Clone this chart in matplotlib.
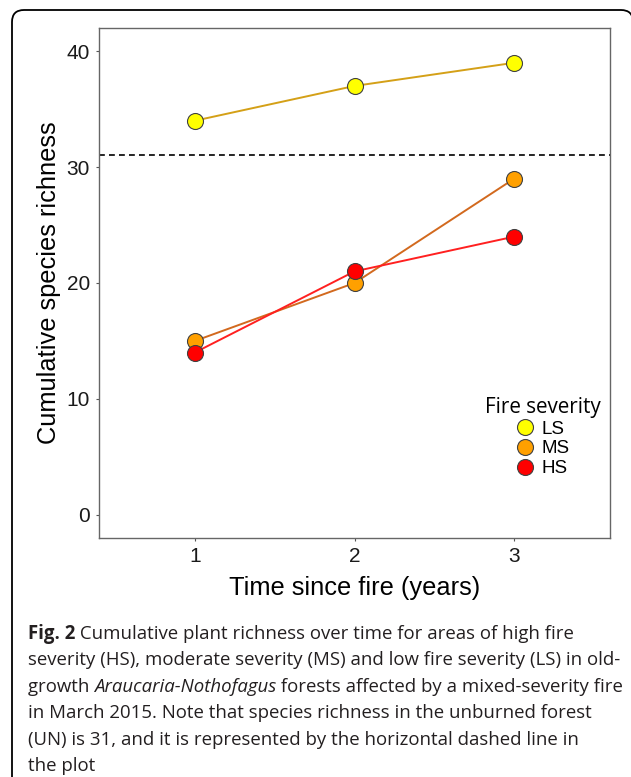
import matplotlib
matplotlib.use("Agg")
import matplotlib.pyplot as plt
from matplotlib.lines import Line2D
from matplotlib.path import Path
from matplotlib.patches import PathPatch

plt.rcParams['font.family'] = ['Liberation Sans', 'DejaVu Sans']

# data
years = [1, 2, 3]
severity = ['LS', 'MS', 'HS']
richness = {
    'LS': [34, 37, 39],
    'MS': [15, 20, 29],
    'HS': [14, 21, 24],
}
unburned = 31

line_col = {'LS': '#D4A017', 'MS': '#D2691E', 'HS': '#FF2020'}
fill_col = {'LS': '#FFFF00', 'MS': '#FFA000', 'HS': '#FF0000'}
edge_col = '#404040'

W, H = 631, 777
fig = plt.figure(figsize=(W / 100, H / 100), dpi=100)


def px(x, y):
    # pixel coords (top-left origin) -> inches for dpi_scale_trans
    return (x / 100, (H - y) / 100)


# rounded frame, open at the bottom and cut at the right edge
verts = [px(12, 800), px(12, 22), px(12, 10), px(24, 10),
         px(621, 10), px(633, 10), px(633, 22), px(633, 800)]
codes = [Path.MOVETO, Path.LINETO, Path.CURVE3, Path.CURVE3,
         Path.LINETO, Path.CURVE3, Path.CURVE3, Path.LINETO]
frame = PathPatch(Path(verts, codes), transform=fig.dpi_scale_trans,
                  fill=False, edgecolor='black', linewidth=1.3)
fig.add_artist(frame)

ax = fig.add_axes([99 / W, 1 - 538 / H, 511 / W, 510 / H])

for s in severity:
    ax.plot(years, richness[s], color=line_col[s], linewidth=1.4, zorder=2)
for s in severity:
    ax.plot(years, richness[s], linestyle='none', marker='o', markersize=11.5,
            markerfacecolor=fill_col[s], markeredgecolor=edge_col,
            markeredgewidth=0.8, zorder=3)

ax.axhline(unburned, color='black', linestyle=(0, (3.5, 2.5)), linewidth=1.2, zorder=1)

ax.set_xlim(0.4, 3.6)
ax.set_ylim(-2, 42)
ax.set_xticks(years)
ax.set_yticks([0, 10, 20, 30, 40])
ax.tick_params(length=2.5, width=0.8, color='#555555', pad=4,
               labelsize=15, labelcolor='#1a1a1a')
for sp in ax.spines.values():
    sp.set_color('#666666')
    sp.set_linewidth(1.0)

ax.set_xlabel('Time since fire (years)', fontsize=18.3, color='black')
ax.set_ylabel('Cumulative species richness', fontsize=18.3, color='black')
ax.xaxis.set_label_coords(0.5, -0.075)
ax.yaxis.set_label_coords(-0.074, 0.5)

handles = [Line2D([], [], linestyle='none', marker='o', markersize=11.5,
                  markerfacecolor=fill_col[s], markeredgecolor=edge_col,
                  markeredgewidth=0.8) for s in severity]
leg = ax.legend(handles, severity, title='Fire severity', frameon=False,
                loc='center', bbox_to_anchor=(0.868, 0.198),
                fontsize=13.5, handletextpad=0.35, labelspacing=0.15,
                handlelength=1.0, borderpad=0)
leg.get_title().set_fontsize(14.9)
leg.get_title().set_family(['Open Sans', 'DejaVu Sans'])

# caption with mixed styles
caption = [
    [("Fig. 2", 'bold', 'normal'),
     (" Cumulative plant richness over time for areas of high fire", 'normal', 'normal')],
    [("severity (HS), moderate severity (MS) and low fire severity (LS) in old-", 'normal', 'normal')],
    [("growth ", 'normal', 'normal'), ("Araucaria-Nothofagus", 'normal', 'italic'),
     (" forests affected by a mixed-severity fire", 'normal', 'normal')],
    [("in March 2015. Note that species richness in the unburned forest", 'normal', 'normal')],
    [("(UN) is 31, and it is represented by the horizontal dashed line in", 'normal', 'normal')],
    [("the plot", 'normal', 'normal')],
]

renderer = fig.canvas.get_renderer()
x0 = 28
y0 = 634
dy = 26.4
for i, line in enumerate(caption):
    x = x0
    y = y0 + i * dy
    for txt, weight, style in line:
        t = fig.text(x / W, 1 - y / H, txt, fontsize=13.4, fontweight=weight,
                     fontstyle=style, family=['Open Sans', 'DejaVu Sans'],
                     color='#231f20', va='center', ha='left')
        bb = t.get_window_extent(renderer)
        x += bb.width

fig.savefig('out.png', dpi=100)
